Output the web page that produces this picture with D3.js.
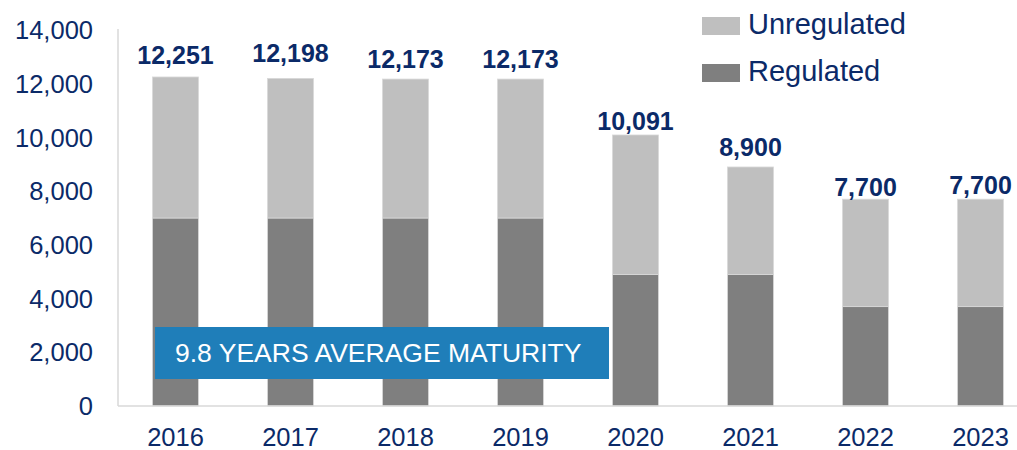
<!DOCTYPE html>
<html>
<head>
<meta charset="utf-8">
<script src="https://cdn.jsdelivr.net/npm/d3@7"></script>
<style>
  body { margin: 0; background: #fff; }
  text { font-family: "Liberation Sans", Arial, sans-serif; }
</style>
</head>
<body>
<svg id="chart" width="1017" height="450"></svg>
<script>
var years = ["2016", "2017", "2018", "2019", "2020", "2021", "2022", "2023"];
var regulated = [7000, 7000, 7000, 7000, 4900, 4900, 3700, 3700];
var totals = [12251, 12198, 12173, 12173, 10091, 8900, 7700, 7700];
var yTicks = [0, 2000, 4000, 6000, 8000, 10000, 12000, 14000];
var seriesNames = ["Unregulated", "Regulated"];
var colors = {Unregulated: "#bfbfbf", Regulated: "#7f7f7f"};
var textColor = "#0b2a68";

var rows = years.map(function(y, i) {
  return {year: y, Regulated: regulated[i], Unregulated: totals[i] - regulated[i], total: totals[i]};
});

var svg = d3.select("#chart");
var plotLeft = 118, plotRight = 1038, plotTop = 30, plotBottom = 406;

var x = d3.scaleBand().domain(years).range([plotLeft, plotRight]).paddingInner(0.6).paddingOuter(0.3);
var y = d3.scaleLinear().domain([0, 14000]).range([plotBottom, plotTop]);

var stack = d3.stack().keys(["Regulated", "Unregulated"])(rows);

svg.append("g").selectAll("g")
  .data(stack)
  .enter().append("g")
    .attr("fill", function(d) { return colors[d.key]; })
  .selectAll("rect")
  .data(function(d) { return d; })
  .enter().append("rect")
    .attr("x", function(d) { return x(d.data.year); })
    .attr("y", function(d) { return y(d[1]); })
    .attr("width", x.bandwidth())
    .attr("height", function(d) { return y(d[0]) - y(d[1]); })
    .attr("stroke", "#d9d9d9")
    .attr("stroke-width", 0.8);

// axis lines
svg.append("line").attr("x1", plotLeft).attr("x2", plotLeft).attr("y1", plotTop - 1).attr("y2", plotBottom)
  .attr("stroke", "#d9d9d9").attr("stroke-width", 1.5);
svg.append("line").attr("x1", plotLeft).attr("x2", 1017).attr("y1", plotBottom).attr("y2", plotBottom)
  .attr("stroke", "#d9d9d9").attr("stroke-width", 1.5);

// y tick labels
svg.append("g").selectAll("text")
  .data(yTicks)
  .enter().append("text")
    .attr("x", 93)
    .attr("y", function(d) { return y(d); })
    .attr("dy", "0.36em")
    .attr("text-anchor", "end")
    .attr("fill", textColor)
    .style("font-size", "25.5px")
    .text(function(d) { return d3.format(",")(d); });

// x labels
svg.append("g").selectAll("text")
  .data(years)
  .enter().append("text")
    .attr("x", function(d) { return x(d) + x.bandwidth() / 2; })
    .attr("y", 446)
    .attr("text-anchor", "middle")
    .attr("fill", textColor)
    .style("font-size", "25.5px")
    .text(function(d) { return d; });

// totals (gap above each bar, as placed in the original)
var labelGap = [13, 16, 11, 11, 5, 11, 3, 5];
svg.append("g").selectAll("text")
  .data(rows)
  .enter().append("text")
    .attr("x", function(d) { return x(d.year) + x.bandwidth() / 2; })
    .attr("y", function(d, i) { return y(d.total) - labelGap[i]; })
    .attr("text-anchor", "middle")
    .attr("fill", textColor)
    .style("font-size", "25px")
    .style("font-weight", "bold")
    .text(function(d) { return d3.format(",")(d.total); });

// annotation box
svg.append("rect").attr("x", 155).attr("y", 327).attr("width", 454).attr("height", 52)
  .attr("fill", "#1f7eb9");
svg.append("text").attr("x", 175).attr("y", 362)
  .attr("fill", "#fff").style("font-size", "26.5px")
  .text("9.8 YEARS AVERAGE MATURITY");

// legend
var legend = svg.append("g").selectAll("g")
  .data(seriesNames)
  .enter().append("g")
    .attr("transform", function(d, i) { return "translate(702," + (17 + i * 47) + ")"; });
legend.append("rect").attr("width", 38).attr("height", 18)
  .attr("fill", function(d) { return colors[d]; });
legend.append("text").attr("x", 46).attr("y", 17)
  .attr("fill", textColor).style("font-size", "29px")
  .text(function(d) { return d; });
</script>
</body>
</html>
